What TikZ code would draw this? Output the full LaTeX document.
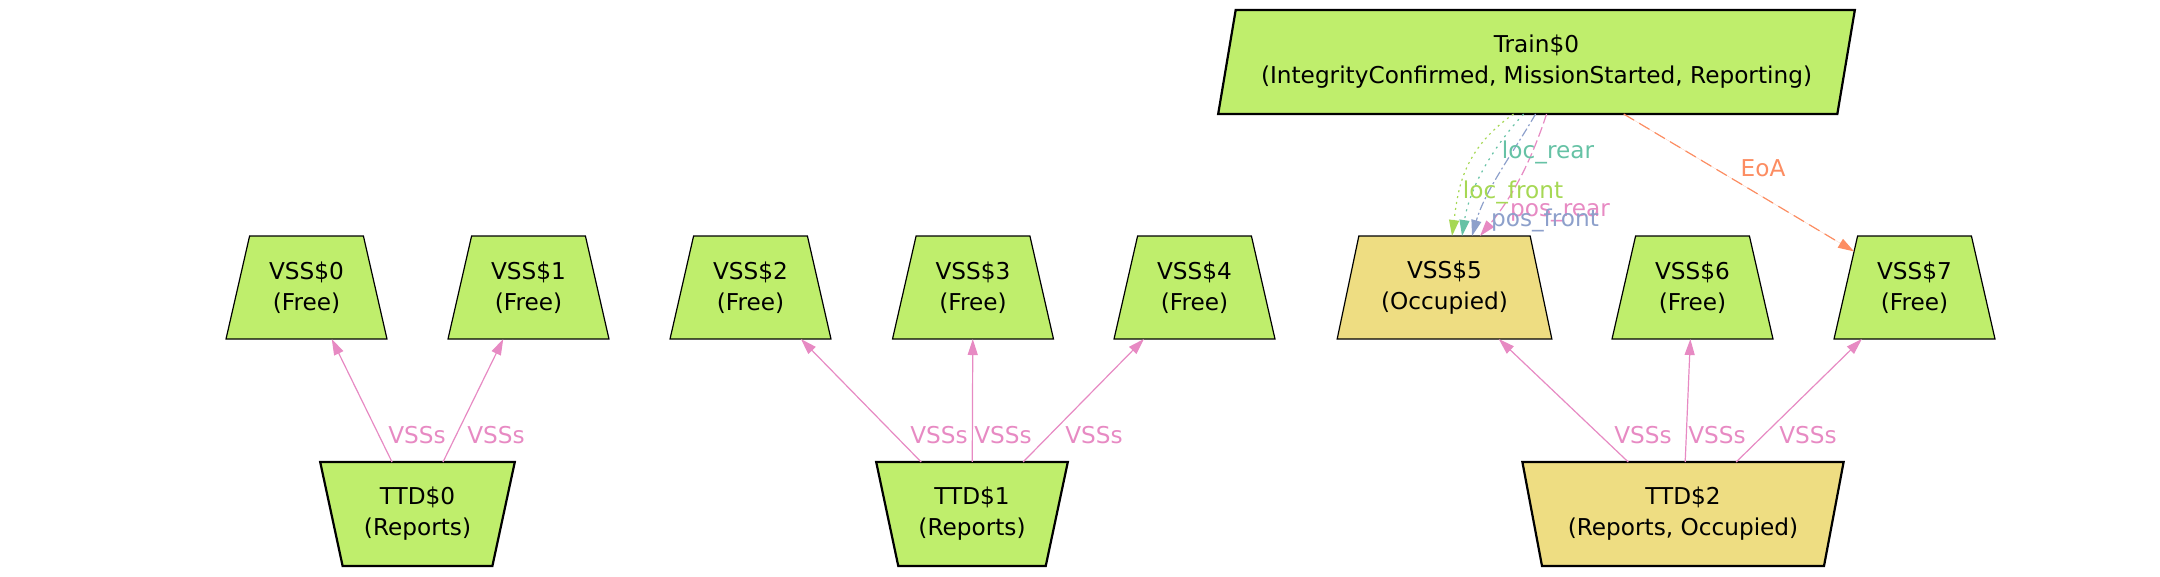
\documentclass[tikz,border=0pt]{standalone}
\usepackage{fontspec}
\setmainfont{DejaVu Sans}
\usetikzlibrary{shapes.geometric,arrows.meta,calc}
\definecolor{nodegreen}{HTML}{BFEE6C}
\definecolor{nodeyellow}{HTML}{EEDD82}
\definecolor{cgreen}{HTML}{A6D854}
\definecolor{cteal}{HTML}{66C2A5}
\definecolor{cblue}{HTML}{8DA0CB}
\definecolor{cpink}{HTML}{E78AC3}
\definecolor{corange}{HTML}{FC8D62}
\tikzset{
  txt/.style={font=\fontsize{23.2}{31}\selectfont, align=center},
  basebox/.style={txt, trapezium, trapezium stretches=true, draw=black, inner sep=0pt, outer sep=0pt},
  vssbox/.style={basebox, line width=1.2pt, fill=nodegreen, minimum height=103pt, minimum width=161pt,
     trapezium left angle=73.3, trapezium right angle=73.3},
  ttdbox/.style={basebox, line width=2.2pt, fill=nodegreen, minimum height=104pt,
     trapezium left angle=106.7, trapezium right angle=106.7},
  trainbox/.style={basebox, line width=2.2pt, fill=nodegreen, minimum height=104pt, minimum width=639pt,
     trapezium left angle=73.3, trapezium right angle=106.7},
  tip/.style={-{Triangle[length=16pt,width=10pt]}},
  vssedge/.style={tip, draw=cpink, line width=1.2pt},
  lbl/.style={txt, inner sep=0pt},
}
\begin{document}
\begin{tikzpicture}[x=1pt,y=-1pt]
\path[use as bounding box] (0,0) rectangle (2160,576);
% nodes
\node[trainbox] (train) at (1536.5,62) {Train\$0\\(IntegrityConfirmed, MissionStarted, Reporting)};
\node[vssbox] (vss0) at (306.5,287.5) {VSS\$0\\(Free)};
\node[vssbox] (vss1) at (528.5,287.5) {VSS\$1\\(Free)};
\node[vssbox] (vss2) at (750.5,287.5) {VSS\$2\\(Free)};
\node[vssbox] (vss3) at (973,287.5) {VSS\$3\\(Free)};
\node[vssbox] (vss4) at (1194.5,287.5) {VSS\$4\\(Free)};
\node[vssbox, fill=nodeyellow, minimum width=215pt] (vss5) at (1444.5,287.5) {VSS\$5\\(Occupied)};
\node[vssbox] (vss6) at (1692.5,287.5) {VSS\$6\\(Free)};
\node[vssbox] (vss7) at (1914.5,287.5) {VSS\$7\\(Free)};
\node[ttdbox, minimum width=195pt] (ttd0) at (417.5,514) {TTD\$0\\(Reports)};
\node[ttdbox, minimum width=192pt] (ttd1) at (972,514) {TTD\$1\\(Reports)};
\node[ttdbox, fill=nodeyellow, minimum width=322pt] (ttd2) at (1683,514) {TTD\$2\\(Reports, Occupied)};
% VSSs edges
\draw[vssedge] (ttd0) -- (vss0);
\draw[vssedge] (ttd0) -- (vss1);
\draw[vssedge] (ttd1) -- (vss2);
\draw[vssedge] (ttd1) -- (vss3);
\draw[vssedge] (ttd1) -- (vss4);
\draw[vssedge] (ttd2) -- (vss5);
\draw[vssedge] (ttd2) -- (vss6);
\draw[vssedge] (ttd2) -- (vss7);
\node[lbl, text=cpink] (l0) at (417,435) {VSSs};
\node[lbl, text=cpink] (l1) at (496,435) {VSSs};
\node[lbl, text=cpink] (l2) at (939,435) {VSSs};
\node[lbl, text=cpink] (l3) at (1003,435) {VSSs};
\node[lbl, text=cpink] (l4) at (1094,435) {VSSs};
\node[lbl, text=cpink] (l5) at (1643,435) {VSSs};
\node[lbl, text=cpink] (l6) at (1717,435) {VSSs};
\node[lbl, text=cpink] (l7) at (1808,435) {VSSs};
% Train edges
\draw[tip, draw=corange, fill=corange, line width=1.2pt, dash pattern=on 12pt off 6pt] (train) -- (vss7);
\node[lbl, text=corange] (leoa) at (1763,168) {EoA};
\draw[tip, draw=cgreen, line width=1.2pt, dash pattern=on 2pt off 4pt]
  ($(train.south)+(-23,0)$) .. controls (1462,150) and (1458,190) .. ($(vss5.north)+(7.5,0)$);
\draw[tip, draw=cteal, line width=1.2pt, dash pattern=on 2pt off 5pt]
  ($(train.south)+(-13,0)$) .. controls (1495,145) and (1470,185) .. ($(vss5.north)+(17.5,0)$);
\draw[tip, draw=cblue, line width=1.2pt, dash pattern=on 9pt off 3pt on 2pt off 3pt]
  ($(train.south)+(-1,0)$) .. controls (1515,150) and (1485,190) .. ($(vss5.north)+(27.5,0)$);
\draw[tip, draw=cpink, line width=1.2pt, dash pattern=on 10pt off 4pt]
  ($(train.south)+(10,0)$) .. controls (1530,165) and (1510,200) .. ($(vss5.north)+(35.5,0)$);
\node[lbl, text=cteal] (llr) at (1548,152) {loc\_rear};
\node[lbl, text=cgreen] (llf) at (1513,192) {loc\_front};
\node[lbl, text=cpink] (lpr) at (1560,213) {pos\_rear};
\node[lbl, text=cblue] (lpf) at (1545,220) {pos\_front};
\end{tikzpicture}
\end{document}
